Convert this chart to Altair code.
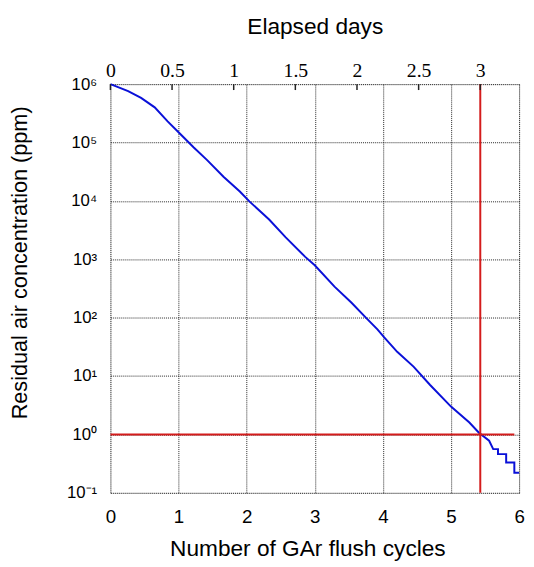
import altair as alt
import pandas as pd

# Blue curve: number of flush cycles vs residual air (ppm)
cycles = [0.0, 0.26, 0.45, 0.65, 0.84, 1.0, 1.22, 1.42, 1.66, 1.90, 2.04, 2.33, 2.57,
          2.86, 3.0, 3.29, 3.54, 3.75, 3.92, 4.02, 4.21, 4.45, 4.69, 5.0, 5.27, 5.41,
          5.56, 5.62, 5.69, 5.69, 5.81, 5.81, 5.93, 5.93, 6.0]
ppm = [1.0e6, 7.6e5, 5.8e5, 4.0e5, 2.3e5, 1.5e5, 8.3e4, 5.0e4, 2.6e4, 1.45e4, 9.8e3,
       4.8e3, 2.4e3, 1.1e3, 7.9e2, 3.4e2, 1.8e2, 1.0e2, 63, 46, 26, 14.5, 7.1, 3.0, 1.6,
       1.07, 0.78, 0.56, 0.56, 0.46, 0.46, 0.33, 0.33, 0.22, 0.22]

# Red marker lines
target_cycles = [5.43]
target_ppm = [1.0]
target_x_end = [5.93]

# Axes
x_ticks = [0, 1, 2, 3, 4, 5, 6]
y_ticks = [0.1, 1, 10, 100, 1e3, 1e4, 1e5, 1e6]
y_exponents = ["⁻¹", "⁰", "¹", "²", "³", "⁴", "⁵", "⁶"]
day_ticks = [0, 0.5, 1, 1.5, 2, 2.5, 3]
days_max = 3.315  # elapsed days at 6 cycles

curve = pd.DataFrame({"cycles": cycles, "ppm": ppm})
vline = pd.DataFrame({"cycles": target_cycles})
hline = pd.DataFrame({"x0": [0.0], "x1": target_x_end, "ppm": target_ppm})
days = pd.DataFrame({"days": day_ticks})

SANS = "Liberation Sans"
SERIF = "Liberation Serif"

xscale = alt.Scale(domain=[0, 6], nice=False)
yscale = alt.Scale(type="log", domain=[0.1, 1e6], nice=False)

exp_list = "[" + ",".join("'" + e + "'" for e in y_exponents) + "]"

xaxis = alt.Axis(
    orient="bottom", values=x_ticks, format="~g", title="Number of GAr flush cycles",
    grid=True, gridDash=[1, 1], gridColor="#000000", gridWidth=1, gridOpacity=0.85,
    ticks=False, domain=False, labelFont=SANS, labelFontSize=19, labelColor="#000",
    labelPadding=15, titleFont=SANS, titleFontSize=23, titleFontWeight="normal",
    titleColor="#000", titlePadding=12, titleX=200, labelFlush=False,
)
yaxis = alt.Axis(
    values=y_ticks, title="Residual air concentration (ppm)",
    grid=True, gridDash=[1, 1], gridColor="#000000", gridWidth=1, gridOpacity=0.85,
    ticks=False, domain=False, labelFont=SANS, labelFontSize=17, labelColor="#000",
    labelPadding=14,
    labelExpr="'10' + " + exp_list + "[round(log(datum.value)/LN10)+1]",
    titleFont=SANS, titleFontSize=22, titleFontWeight="normal", titleColor="#000",
    titlePadding=36, titleY=181, labelFlush=False,
)

line = alt.Chart(curve).mark_line(color="#0a10d8", strokeWidth=2).encode(
    x=alt.X("cycles:Q", scale=xscale, axis=xaxis),
    y=alt.Y("ppm:Q", scale=yscale, axis=yaxis),
)

red_v = alt.Chart(vline).mark_rule(color="#d41c1c", strokeWidth=2).encode(
    x=alt.X("cycles:Q", scale=xscale),
)
red_h = alt.Chart(hline).mark_rule(color="#d41c1c", strokeWidth=2).encode(
    x=alt.X("x0:Q", scale=xscale),
    x2="x1:Q",
    y=alt.Y("ppm:Q", scale=yscale),
)

main = alt.layer(line, red_h, red_v)

top = alt.Chart(days).mark_rule(color="#222", strokeWidth=1.5).encode(
    x=alt.X("days:Q", scale=alt.Scale(domain=[0, days_max], nice=False),
            axis=alt.Axis(orient="top", values=day_ticks, format="~g", title="Elapsed days",
                          grid=False, ticks=False, domain=False,
                          labelFont=SERIF, labelFontSize=20, labelColor="#000",
                          labelPadding=4, labelFlush=False,
                          titleFont=SANS, titleFontSize=23, titleFontWeight="normal",
                          titleColor="#000", titlePadding=22)),
    y=alt.value(0),
    y2=alt.value(6),
)

chart = alt.layer(main, top).resolve_scale(x="independent").properties(
    width=415, height=415,
    padding={"left": 104, "top": 73, "right": 7, "bottom": 70},
    autosize=alt.AutoSizeParams(type="none"),
).configure_view(stroke="#000", strokeWidth=1.5).configure(background="white")

chart.save("out.html", embed_options={"renderer": "svg", "actions": False})
